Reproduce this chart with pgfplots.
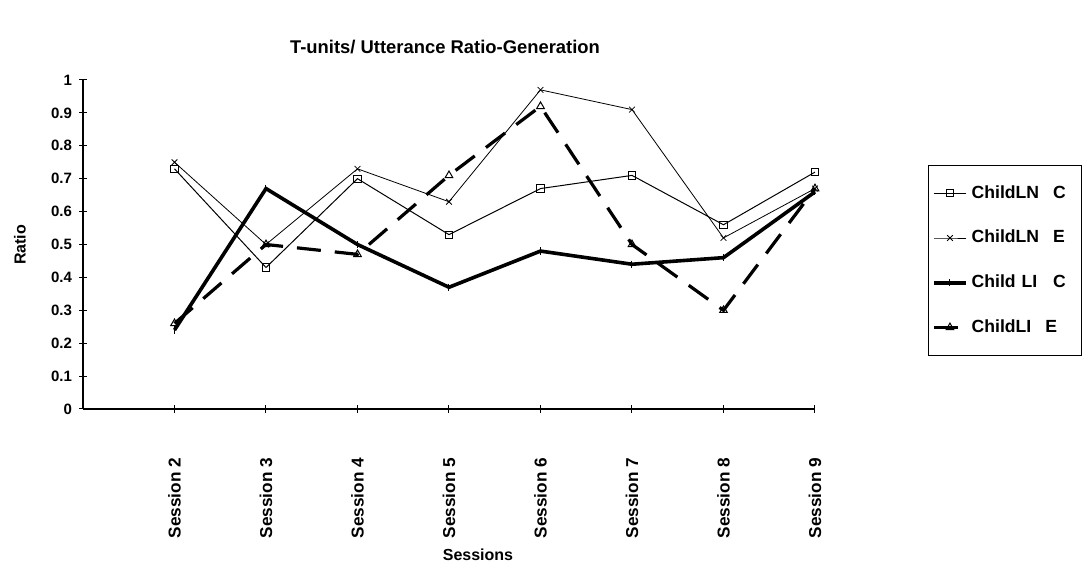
\documentclass[border=0pt]{standalone}
\usepackage{pgfplots}
\pgfplotsset{compat=1.18}
\usepackage{fontspec}
\setmainfont{Liberation Sans}

\begin{document}
\begin{tikzpicture}
\useasboundingbox (0,0) rectangle (542.5pt,285.5pt);
\begin{axis}[
    at={(41.5pt,81pt)}, anchor=south west,
    scale only axis, width=366pt, height=164.5pt,
    axis lines=left, axis line style={-, line width=0.6pt},
    xmin=1, xmax=9, ymin=0, ymax=1,
    xtick={2,...,9},
    xticklabels={Session 2,Session 3,Session 4,Session 5,Session 6,Session 7,Session 8,Session 9},
    xticklabel style={rotate=90, anchor=east, xshift=-19pt, font=\fontsize{8.6}{9}\selectfont\bfseries},
    ytick={0,0.1,...,1},
    yticklabel style={font=\fontsize{7.5}{8}\selectfont\bfseries},
    /pgf/number format/assume math mode=true,
    /pgf/number format/fixed,
    tick align=center, major tick length=4pt,
    tick style={black, line width=0.5pt},
    clip=false,
    legend cell align=left,
    legend style={at={(rel axis cs:1.154,0.742)}, anchor=north west,
        draw=black, line width=0.5pt, font=\fontsize{8.8}{9}\selectfont\bfseries,
        row sep=10.5pt, inner xsep=2pt, inner ysep=8pt,
        text width=51pt},
    legend image code/.code={
        \draw[mark repeat=2,mark phase=2] plot coordinates {(0cm,0cm) (0.28cm,0cm) (0.56cm,0cm)};},
]
\addplot[black, line width=0.5pt, mark=square, mark size=1.8pt, mark options={solid, fill=white}]
  coordinates {(2,0.73)(3,0.43)(4,0.70)(5,0.53)(6,0.67)(7,0.71)(8,0.56)(9,0.72)};
\addlegendentry{ChildLN\hspace{7pt}C}
\addplot[black, line width=0.4pt, mark=x, mark size=2pt, mark options={solid}]
  coordinates {(2,0.75)(3,0.50)(4,0.73)(5,0.63)(6,0.97)(7,0.91)(8,0.52)(9,0.67)};
\addlegendentry{ChildLN\hspace{7pt}E}
\addplot[black, line width=1.8pt, mark=|, mark size=1.8pt, mark options={solid, line width=0.5pt}]
  coordinates {(2,0.24)(3,0.67)(4,0.50)(5,0.37)(6,0.48)(7,0.44)(8,0.46)(9,0.66)};
\addlegendentry{Child LI\hspace{8pt}C}
\addplot[black, line width=1.6pt, dash pattern=on 12pt off 7pt, mark=triangle, mark size=2.2pt, mark options={solid, line width=0.5pt, fill=white}]
  coordinates {(2,0.26)(3,0.50)(4,0.47)(5,0.71)(6,0.92)(7,0.50)(8,0.30)(9,0.67)};
\addlegendentry{ChildLI\hspace{7pt}E}
\end{axis}
\node[font=\fontsize{9.2}{10}\selectfont\bfseries] at (222.5pt,262pt) {T-units/ Utterance Ratio-Generation};
\node[font=\fontsize{8}{9}\selectfont\bfseries, rotate=90] at (10pt,163pt) {Ratio};
\node[font=\fontsize{8}{9}\selectfont\bfseries] at (239pt,8pt) {Sessions};
\end{tikzpicture}
\end{document}
